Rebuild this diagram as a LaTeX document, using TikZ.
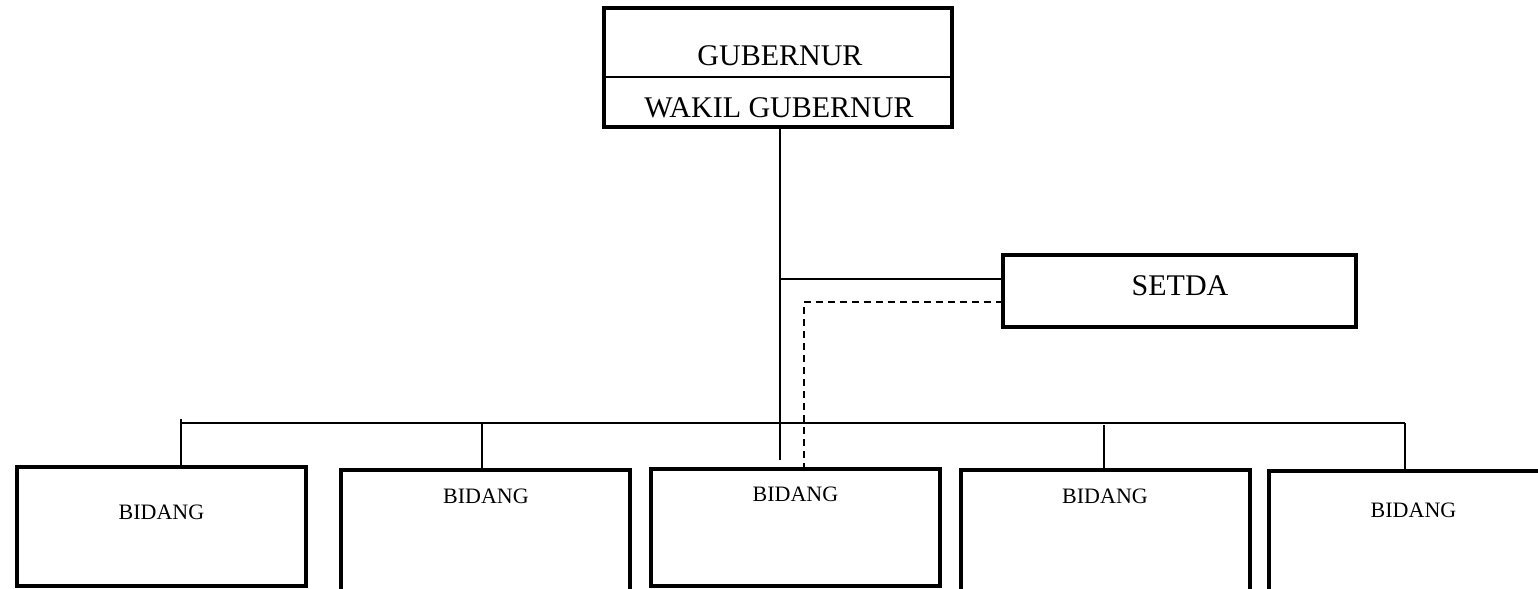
\documentclass[tikz,border=0pt]{standalone}
\usepackage{fontspec}
\setmainfont{Liberation Serif}
\begin{document}
\begin{tikzpicture}[x=0.5pt,y=-0.5pt,
  box/.style={draw, line width=1.6pt, inner sep=0pt, outer sep=0pt, fill=white},
  conn/.style={line width=1pt},
  dconn/.style={line width=1pt, dash pattern=on 3.5pt off 2.5pt},
  lbl/.style={inner sep=0pt, anchor=base},
  big/.style={font=\fontsize{15}{17}\selectfont},
  small/.style={font=\fontsize{11}{13}\selectfont}]
\useasboundingbox (0,0) rectangle (1538,589);
\clip (0,0) rectangle (1538,589);

% top box
\node[box, minimum width=174pt, minimum height=59.5pt] (gub) at (778,67.5) {};
\draw[line width=1.2pt] (gub.west |- 0,77) coordinate (dl) -- (gub.east |- 0,77) coordinate (dr);
\node[lbl, big] (tgub) at (780,65) {GUBERNUR};
\node[lbl, big] (twak) at (779,117) {WAKIL GUBERNUR};

% SETDA
\node[box, minimum width=176.5pt, minimum height=36pt] (setda) at (1179.5,291) {};
\node[lbl, big] (tsetda) at (1180,295) {SETDA};

% bottom boxes
\node[box, minimum width=144.5pt, minimum height=59.5pt] (b1) at (161.5,526.5) {};
\node[box, minimum width=144.5pt, minimum height=65pt] (b2) at (485.5,535) {};
\node[box, minimum width=144.5pt, minimum height=58.5pt] (b3) at (795.5,527.5) {};
\node[box, minimum width=144.5pt, minimum height=65pt] (b4) at (1105.5,535) {};
\node[box, minimum width=144.5pt, minimum height=65pt] (b5) at (1413.5,536) {};

\node[lbl, small] (t1) at (161.5,519) {BIDANG};
\node[lbl, small] (t2) at (486,503) {BIDANG};
\node[lbl, small] (t3) at (795.5,501) {BIDANG};
\node[lbl, small] (t4) at (1105,503) {BIDANG};
\node[lbl, small] (t5) at (1413.5,517) {BIDANG};

% connectors
\coordinate (vtop) at (780,127);
\coordinate (vbot) at (780,460);
\draw[conn] (gub.south -| vtop) -- (vbot);
\draw[conn] (780,279) -- (setda.west |- 0,279);
\draw[dconn] (setda.west |- 0,302) -- (804,302) -- (804,302 |- b3.north);
\draw[conn] (181,423) coordinate (busl) -- (1405,423) coordinate (busr);
\draw[conn] (181,419) -- (181,423 |- b1.north);
\draw[conn] (482,423) -- (482,423 |- b2.north);
\draw[conn] (1104,425) -- (1104,425 |- b4.north);
\draw[conn] (busr) -- (busr |- b5.north);
\end{tikzpicture}
\end{document}
